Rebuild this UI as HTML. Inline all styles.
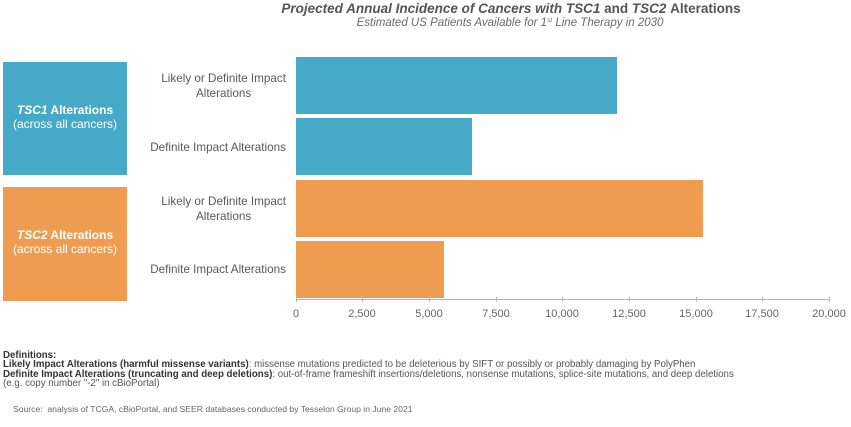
<!DOCTYPE html>
<html><head><meta charset="utf-8"><style>
html,body{margin:0;padding:0;background:#fff;}
body{width:851px;height:427px;position:relative;overflow:hidden;font-family:"Liberation Sans",Arial,sans-serif;}
.a{position:absolute;}
.title{left:0;width:1022px;top:1px;text-align:center;font-size:13.5px;font-weight:bold;font-style:italic;color:#555;white-space:nowrap;line-height:15px;}
.sub{left:0;width:1020px;top:17px;text-align:center;font-size:11.5px;font-style:italic;color:#6a6a6a;white-space:nowrap;line-height:13px;}
.sub sup{font-size:6.5px;vertical-align:4px;line-height:0;}
.box{color:#fff;font-size:12px;text-align:center;line-height:13.5px;}
.bar{position:absolute;}
.blue{background:#45a9c7;}
.orange{background:#ee9d50;}
.cat{position:absolute;right:565px;font-size:11.7px;color:#595959;text-align:center;line-height:15px;white-space:nowrap;}
.tick{position:absolute;top:297px;width:1px;height:5px;background:#b5b5b5;}
.tl{position:absolute;top:308px;width:60px;margin-left:-30px;text-align:center;font-size:11px;color:#666;line-height:13px;}
.foot{left:3px;top:351px;font-size:9.7px;line-height:9.3px;color:#555;white-space:nowrap;}
.foot b{color:#333;}
.src{left:13px;top:404px;font-size:8.6px;color:#666;white-space:nowrap;line-height:11px;}
</style></head><body>
<div class="a title">Projected Annual Incidence of Cancers with TSC1 <span style="font-style:normal">and</span> TSC2 <span style="font-style:normal">Alterations</span></div>
<div class="a sub">Estimated US Patients Available for 1<sup>st</sup> Line Therapy in 2030</div>

<div class="a blue" style="left:3px;top:62px;width:124px;height:113px;"></div>
<div class="a box" style="left:3px;top:104px;width:124px;"><b><i>TSC1</i> Alterations</b><br>(across all cancers)</div>
<div class="a orange" style="left:3px;top:187px;width:124px;height:114px;"></div>
<div class="a box" style="left:3px;top:229px;width:124px;"><b><i>TSC2</i> Alterations</b><br>(across all cancers)</div>

<div class="cat" style="top:71px;">Likely or Definite Impact<br>Alterations</div>
<div class="cat" style="top:140px;">Definite Impact Alterations</div>
<div class="cat" style="top:194px;">Likely or Definite Impact<br>Alterations</div>
<div class="cat" style="top:262px;">Definite Impact Alterations</div>

<div class="bar blue" style="left:296px;top:57px;width:321px;height:57px;"></div>
<div class="bar blue" style="left:296px;top:118px;width:176px;height:57px;"></div>
<div class="bar orange" style="left:296px;top:180px;width:407px;height:57px;"></div>
<div class="bar orange" style="left:296px;top:241px;width:148px;height:57px;"></div>

<div class="a" style="left:296px;top:299px;width:534px;height:1px;background:#b5b5b5;"></div>
<div class="tick" style="left:296px"></div>
<div class="tick" style="left:362px"></div>
<div class="tick" style="left:429px"></div>
<div class="tick" style="left:496px"></div>
<div class="tick" style="left:562px"></div>
<div class="tick" style="left:629px"></div>
<div class="tick" style="left:696px"></div>
<div class="tick" style="left:762px"></div>
<div class="tick" style="left:829px"></div>
<div class="tl" style="left:296px">0</div>
<div class="tl" style="left:362px">2,500</div>
<div class="tl" style="left:429px">5,000</div>
<div class="tl" style="left:496px">7,500</div>
<div class="tl" style="left:562px">10,000</div>
<div class="tl" style="left:629px">12,500</div>
<div class="tl" style="left:696px">15,000</div>
<div class="tl" style="left:762px">17,500</div>
<div class="tl" style="left:829px">20,000</div>

<div class="a foot"><b>Definitions:</b><br><b>Likely Impact Alterations (harmful missense variants)</b>: missense mutations predicted to be deleterious by SIFT or possibly or probably damaging by PolyPhen<br><b>Definite Impact Alterations (truncating and deep deletions)</b>: out-of-frame frameshift insertions/deletions, nonsense mutations, splice-site mutations, and deep deletions<br>(e.g. copy number "-2" in cBioPortal)</div>
<div class="a src">Source:&nbsp; analysis of TCGA, cBioPortal, and SEER databases conducted by Tesselon Group in June 2021</div>
</body></html>
